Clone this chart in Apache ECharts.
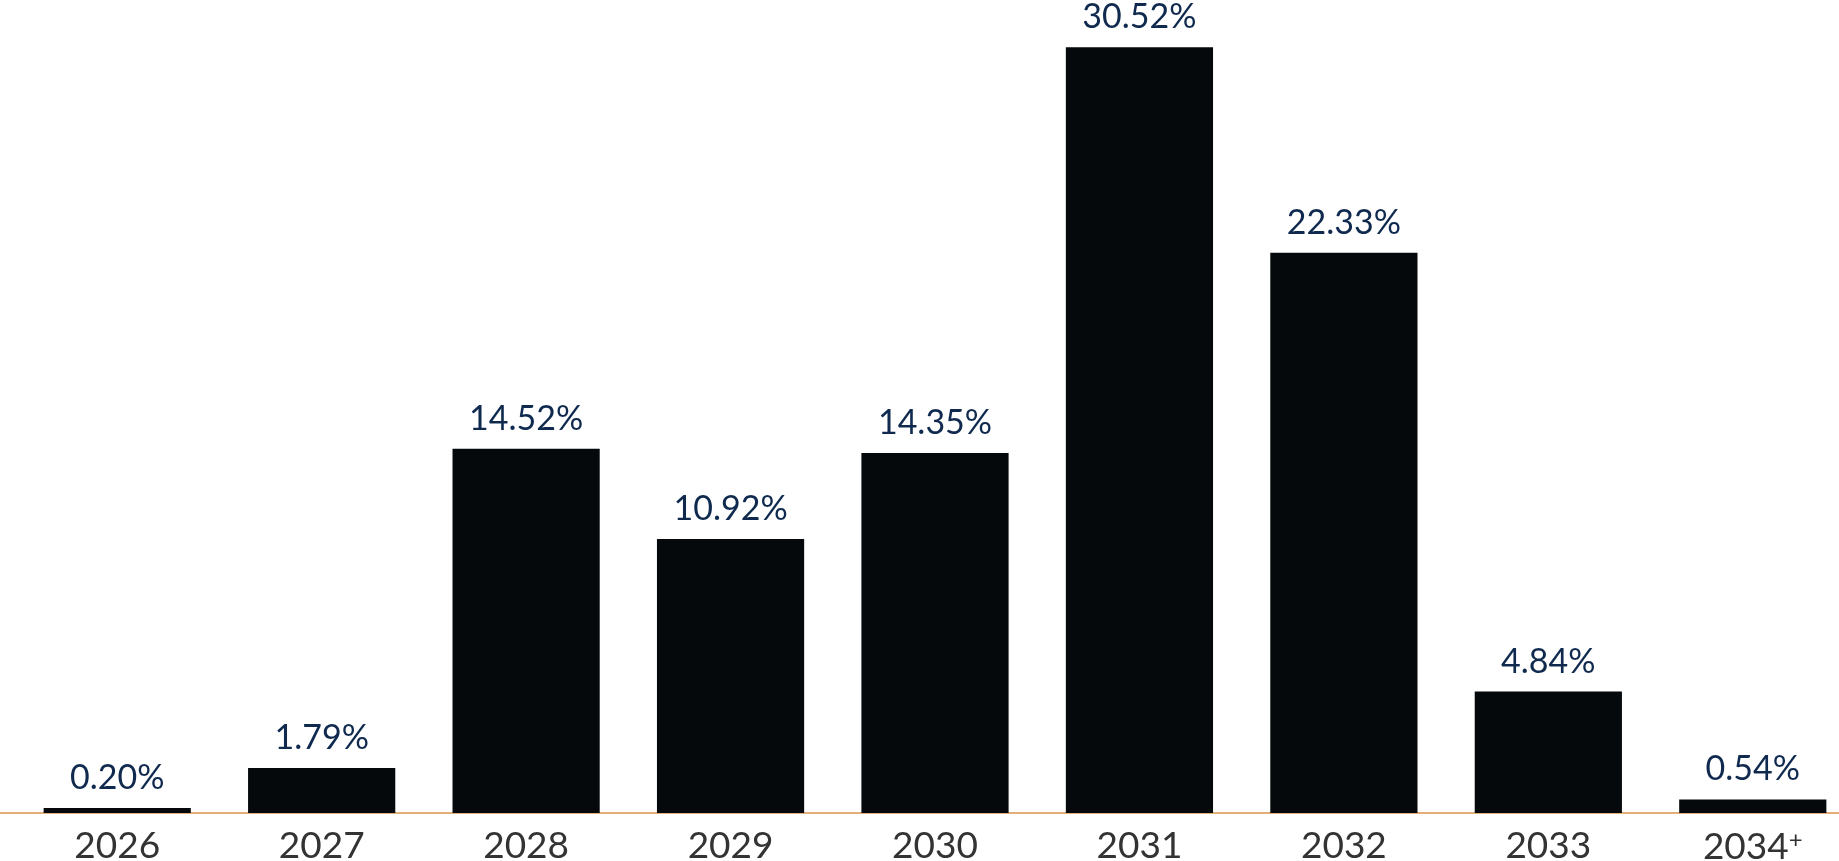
<!DOCTYPE html>
<html>
<head>
<meta charset="utf-8">
<script src="https://cdn.jsdelivr.net/npm/echarts@6/dist/echarts.min.js"></script>
<style>
html,body{margin:0;padding:0;background:#fff;}
#chart{width:1839px;height:861px;}
</style>
</head>
<body>
<div id="chart"></div>
<script>
const categories = ['2026', '2027', '2028', '2029', '2030', '2031', '2032', '2033', '2034+'];
const values = [0.20, 1.79, 14.52, 10.92, 14.35, 30.52, 22.33, 4.84, 0.54];

const chart = echarts.init(document.getElementById('chart'));
chart.setOption({
  animation: false,
  backgroundColor: '#ffffff',
  grid: [
    { left: 15, width: 1840, top: 10, bottom: 48, outerBoundsMode: 'none', containLabel: false },
    { left: 0, right: 0, top: 10, bottom: 48, outerBoundsMode: 'none', containLabel: false }
  ],
  xAxis: [
    {
      type: 'category',
      gridIndex: 0,
      data: categories,
      axisLine: { show: false },
      axisTick: { show: false },
      axisLabel: {
        interval: 0,
        margin: 15,
        color: '#333333',
        fontFamily: 'Lato',
        fontSize: 37,
        formatter: function (v) {
          if (v.endsWith('+')) return '{a|' + v.slice(0, -1) + '}{s|+}';
          return '{a|' + v + '}';
        },
        rich: {
          a: { color: '#333333', fontFamily: 'Lato', fontSize: 37 },
          s: { color: '#333333', fontFamily: 'Lato', fontSize: 24, verticalAlign: 'top', padding: [0, 0, 14, 0] }
        }
      }
    },
    {
      type: 'category',
      gridIndex: 1,
      data: categories,
      axisLine: { show: true, lineStyle: { color: '#d9964a', width: 1.5 } },
      axisTick: { show: false },
      axisLabel: { show: false }
    }
  ],
  yAxis: [
    { type: 'value', gridIndex: 0, min: 0, max: 32, show: false, splitLine: { show: false } },
    { type: 'value', gridIndex: 1, min: 0, max: 32, show: false, splitLine: { show: false } }
  ],
  series: [
    {
      type: 'bar',
      xAxisIndex: 0,
      yAxisIndex: 0,
      data: values,
      barWidth: '72%',
      itemStyle: { color: '#05090b' },
      label: {
        show: true,
        position: 'top',
        distance: 13,
        color: '#0f2a4e',
        fontFamily: 'Lato',
        fontSize: 34,
        formatter: function (p) { return p.value.toFixed(2) + '%'; }
      }
    }
  ]
});
</script>
</body>
</html>
